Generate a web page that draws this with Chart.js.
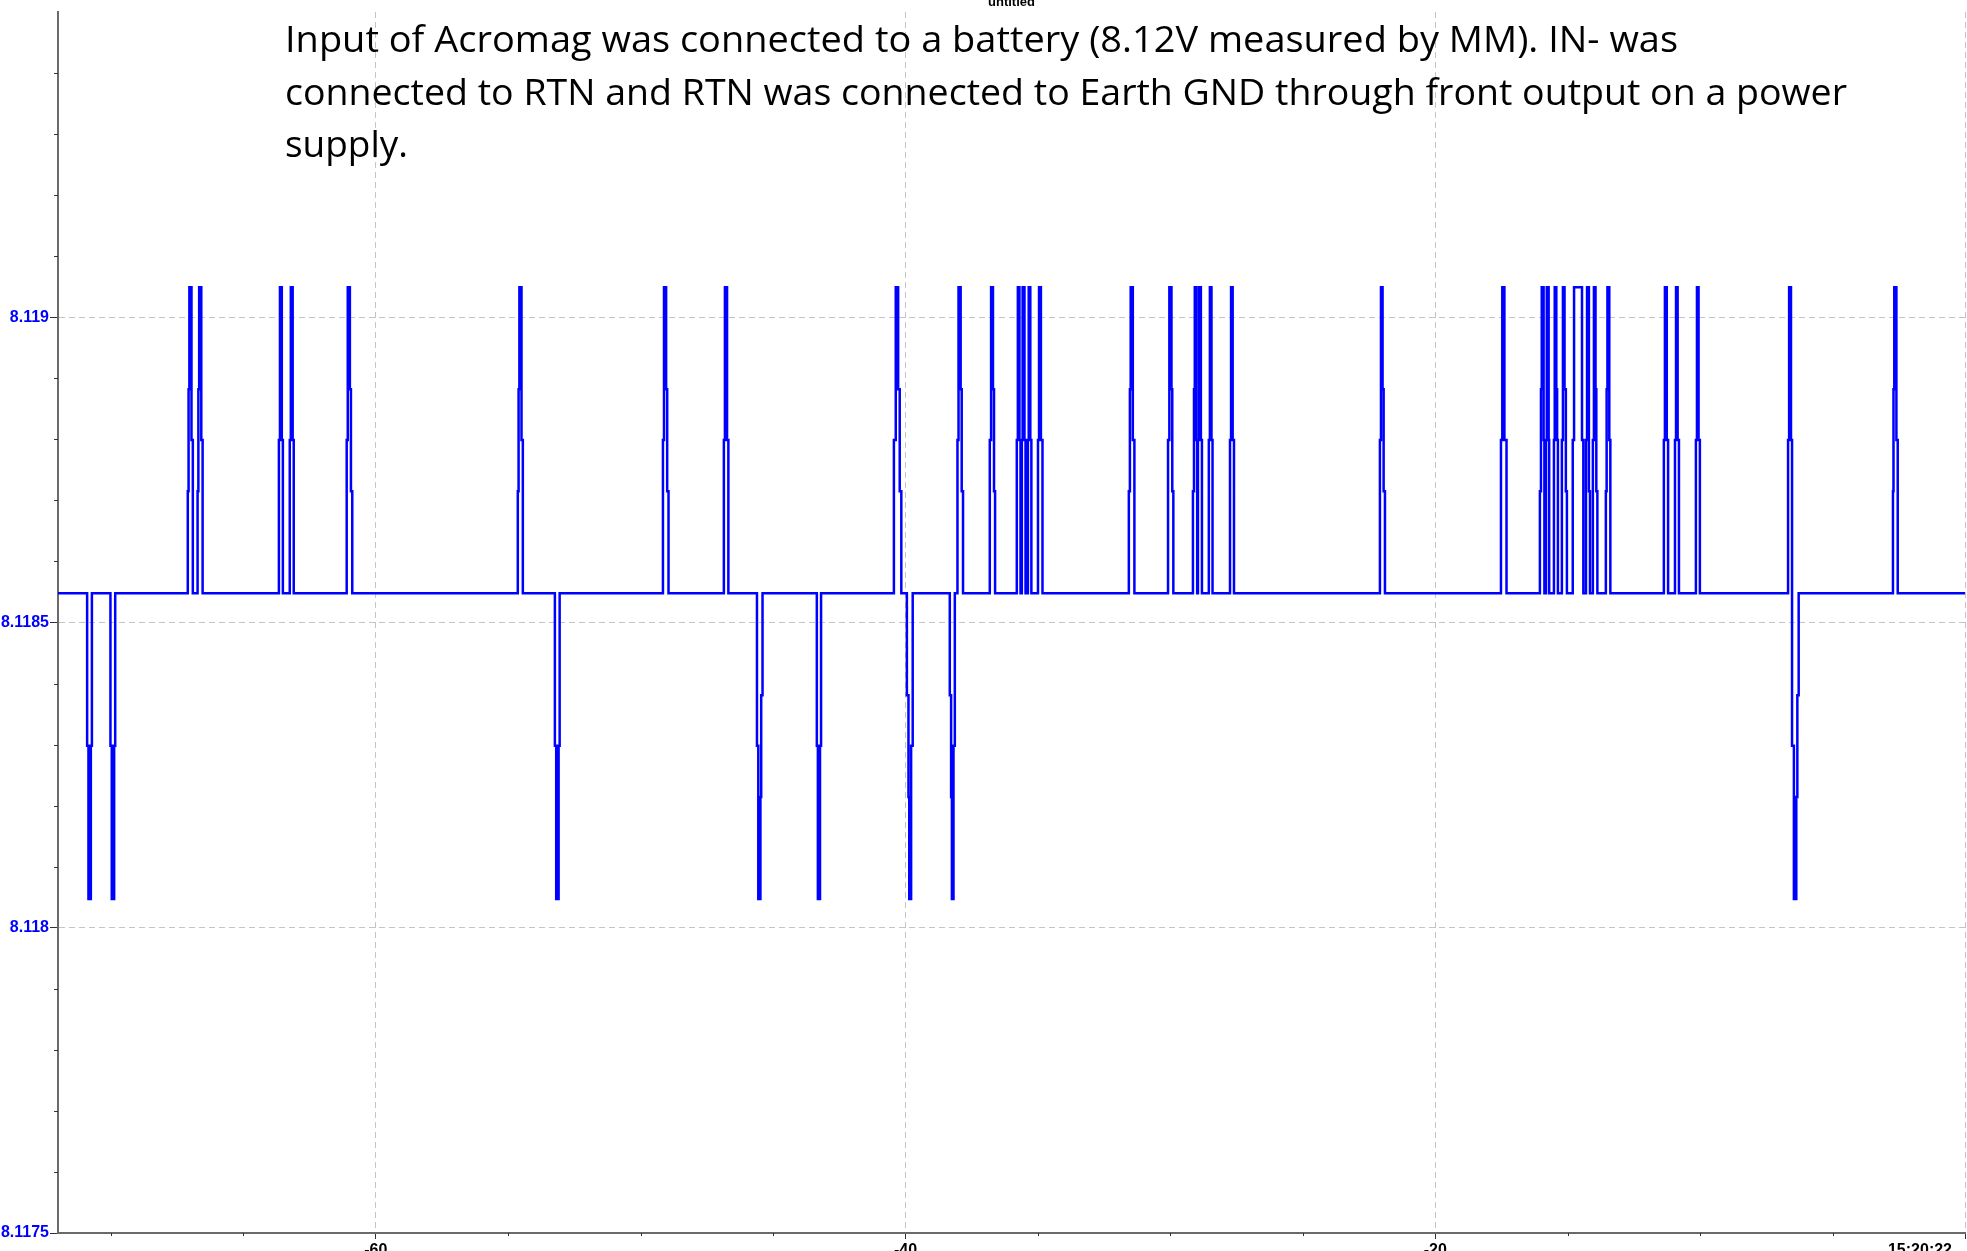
<!DOCTYPE html>
<html>
<head>
<meta charset="utf-8">
<title>untitled</title>
<script src="https://cdn.jsdelivr.net/npm/chart.js@4.4.1/dist/chart.umd.min.js"></script>
<style>
  html, body { margin: 0; padding: 0; background: #ffffff; overflow: hidden; }
  #wrap { width: 1967px; height: 1251px; }
</style>
</head>
<body>
<div id="wrap"><canvas id="plot" width="1967" height="1251"></canvas></div>
<script>
(function() {
  window.addEventListener("load", main);

  const TITLE = "untitled";
  const NOTE_LINES = [
    "Input of Acromag was connected to a battery (8.12V measured by MM). IN- was",
    "connected to RTN and RTN was connected to Earth GND through front output on a power",
    "supply."
  ];
  // width each typed line takes up in the picture
  const NOTE_WIDTHS = [1393, 1562, 123];

  // seconds before 15:20:22, one entry per sample change
  const times = [
    -72.00,
    -70.90, -70.85, -70.76, -70.72,
    -70.02, -69.97, -69.88, -69.84,
    -67.10, -67.07, -67.04, -66.96, -66.91,
    -66.73, -66.70, -66.67, -66.59, -66.54,
    -63.66, -63.62, -63.55, -63.51,
    -63.25, -63.21, -63.14, -63.10,
    -61.10, -61.06, -60.98, -60.94, -60.89,
    -54.64, -54.61, -54.58, -54.50, -54.45,
    -53.24, -53.19, -53.10, -53.06,
    -49.16, -49.12, -49.04, -49.00, -48.95,
    -46.86, -46.82, -46.74, -46.69,
    -45.61, -45.56, -45.48, -45.45, -45.40,
    -43.35, -43.31, -43.23, -43.19,
    -40.44, -40.37, -40.28, -40.22, -40.16,
    -39.95, -39.89, -39.86, -39.79, -39.73,
    -38.33, -38.28, -38.25, -38.19, -38.14,
    -38.04, -38.00, -37.92, -37.88, -37.83,
    -36.82, -36.77, -36.70, -36.66, -36.62,
    -35.80, -35.76, -35.70, -35.66,
    -35.61, -35.58, -35.51, -35.47,
    -35.38, -35.35, -35.29, -35.25,
    -35.00, -34.96, -34.89, -34.83,
    -31.57, -31.53, -31.50, -31.42, -31.36,
    -30.09, -30.04, -29.96, -29.93, -29.89,
    -29.15, -29.11, -29.08, -29.02, -28.99,
    -28.96, -28.92, -28.85, -28.81,
    -28.55, -28.51, -28.45, -28.41,
    -27.75, -27.71, -27.65, -27.60,
    -22.09, -22.05, -21.99, -21.95, -21.90,
    -17.52, -17.47, -17.39, -17.31,
    -16.05, -16.01, -15.98, -15.91, -15.88,
    -15.82, -15.79, -15.72, -15.70,
    -15.52, -15.49, -15.43, -15.40, -15.37,
    -15.22, -15.18, -15.12, -15.07, -15.03,
    -14.81, -14.76, -14.46, -14.41,
    -14.31, -14.27, -14.20, -14.16,
    -14.05, -14.01, -13.95, -13.92, -13.88,
    -13.56, -13.53, -13.50, -13.43, -13.39,
    -11.37, -11.33, -11.26, -11.21,
    -10.95, -10.91, -10.85, -10.80,
    -10.16, -10.12, -10.06, -10.01,
    -6.68, -6.64, -6.57, -6.53, -6.46, -6.37, -6.33, -6.28,
    -2.72, -2.70, -2.67, -2.59, -2.54,
    0.00
  ];

  // volts, same order as times
  const volts = [
    8.118548,
    8.118298, 8.118047, 8.118298, 8.118548,
    8.118298, 8.118047, 8.118298, 8.118548,
    8.118715, 8.118882, 8.119049, 8.118799, 8.118548,
    8.118715, 8.118882, 8.119049, 8.118799, 8.118548,
    8.118799, 8.119049, 8.118799, 8.118548,
    8.118799, 8.119049, 8.118799, 8.118548,
    8.118799, 8.119049, 8.118882, 8.118715, 8.118548,
    8.118715, 8.118882, 8.119049, 8.118799, 8.118548,
    8.118298, 8.118047, 8.118298, 8.118548,
    8.118799, 8.119049, 8.118882, 8.118715, 8.118548,
    8.118799, 8.119049, 8.118799, 8.118548,
    8.118298, 8.118047, 8.118214, 8.118381, 8.118548,
    8.118298, 8.118047, 8.118298, 8.118548,
    8.118799, 8.119049, 8.118882, 8.118715, 8.118548,
    8.118381, 8.118214, 8.118047, 8.118298, 8.118548,
    8.118381, 8.118214, 8.118047, 8.118298, 8.118548,
    8.118799, 8.119049, 8.118882, 8.118715, 8.118548,
    8.118799, 8.119049, 8.118882, 8.118715, 8.118548,
    8.118799, 8.119049, 8.118799, 8.118548,
    8.118799, 8.119049, 8.118799, 8.118548,
    8.118799, 8.119049, 8.118799, 8.118548,
    8.118799, 8.119049, 8.118799, 8.118548,
    8.118715, 8.118882, 8.119049, 8.118799, 8.118548,
    8.118799, 8.119049, 8.118882, 8.118715, 8.118548,
    8.118715, 8.118882, 8.119049, 8.118799, 8.118548,
    8.118799, 8.119049, 8.118799, 8.118548,
    8.118799, 8.119049, 8.118799, 8.118548,
    8.118799, 8.119049, 8.118799, 8.118548,
    8.118799, 8.119049, 8.118882, 8.118715, 8.118548,
    8.118799, 8.119049, 8.118799, 8.118548,
    8.118715, 8.118882, 8.119049, 8.118799, 8.118548,
    8.118799, 8.119049, 8.118799, 8.118548,
    8.118799, 8.119049, 8.118882, 8.118799, 8.118548,
    8.118799, 8.119049, 8.118882, 8.118715, 8.118548,
    8.118799, 8.119049, 8.118799, 8.118548,
    8.118799, 8.119049, 8.118715, 8.118548,
    8.118799, 8.119049, 8.118882, 8.118715, 8.118548,
    8.118715, 8.118882, 8.119049, 8.118799, 8.118548,
    8.118799, 8.119049, 8.118799, 8.118548,
    8.118799, 8.119049, 8.118799, 8.118548,
    8.118799, 8.119049, 8.118799, 8.118548,
    8.118799, 8.119049, 8.118799, 8.118298, 8.118047, 8.118214, 8.118381, 8.118548,
    8.118715, 8.118882, 8.119049, 8.118799, 8.118548,
    8.118548
  ];

  const X_MIN = -72;
  const X_MAX = 0;
  const Y_MIN = 8.1175;
  const Y_MAX = 8.1195;
  const xTickValues = [-60, -40, -20, 0];
  const xTickLabels = ["-60", "-40", "-20", "15:20:22"];
  const yTickValues = [8.1175, 8.118, 8.1185, 8.119];
  const yTickLabels = ["8.1175", "8.118", "8.1185", "8.119"];

  const GRID_COLOR = "#c4c4c4";
  const TICK_COLOR = "#303030";
  const AXIS_COLOR = "#6a6a6a";
  const NONE = "rgba(0,0,0,0)";

  function main() {
    let points = [];
    for (let i = 0; i < times.length; i++) {
      points.push({x: times[i], y: volts[i]});
    }

    let ctx = document.getElementById("plot").getContext("2d");
    let chart = new Chart(ctx, {
      type: "line",
      data: {
        datasets: [{
          label: "IN+",
          data: points,
          borderColor: "#0000ff",
          borderWidth: 2.5,
          pointRadius: 0,
          stepped: true,
          fill: false
        }]
      },
      options: {
        responsive: false,
        animation: false,
        events: [],
        layout: { padding: { top: 12, right: 2, left: 0, bottom: 0 } },
        plugins: {
          legend: { display: false },
          title: { display: false },
          tooltip: { enabled: false }
        },
        scales: {
          x: {
            type: "linear",
            min: X_MIN,
            max: X_MAX,
            afterFit: function(scale) {
              scale.height = 18;
              scale.paddingLeft = 0;
              scale.paddingRight = 0;
            },
            ticks: { display: false, stepSize: 5, includeBounds: false },
            grid: {
              color: function(c) { return c.tick && isMajorX(c.tick.value) ? GRID_COLOR : NONE; },
              tickColor: function(c) { return c.tick && isMajorX(c.tick.value) ? TICK_COLOR : NONE; },
              lineWidth: 1,
              tickLength: 6
            },
            border: { display: true, color: AXIS_COLOR, width: 2, dash: [6, 4] }
          },
          y: {
            type: "linear",
            min: Y_MIN,
            max: Y_MAX,
            afterFit: function(scale) {
              scale.width = 58;
              scale.paddingTop = 0;
              scale.paddingBottom = 0;
            },
            ticks: {
              stepSize: 0.0001,
              autoSkip: false,
              padding: 1,
              color: "#0000ff",
              font: { family: "'Liberation Sans', Arial, sans-serif", size: 16, weight: "bold" },
              callback: function(value) {
                if (!isMajorY(value)) {
                  return "";
                }
                return yTickLabels[findMajor(yTickValues, value, 1e-8)];
              }
            },
            grid: {
              color: function(c) { return c.tick && isMajorY(c.tick.value) ? GRID_COLOR : NONE; },
              tickColor: function(c) { return c.tick && isMajorY(c.tick.value) ? TICK_COLOR : NONE; },
              lineWidth: 1,
              tickLength: 8
            },
            border: { display: true, color: AXIS_COLOR, width: 2, dash: [6, 4] }
          }
        }
      },
      plugins: [axisExtras, noteText]
    });
  }

  function findMajor(list, v, eps) {
    for (let i = 0; i < list.length; i++) {
      if (Math.abs(list[i] - v) < eps) {
        return i;
      }
    }
    return -1;
  }

  function isMajorY(v) {
    return v < Y_MAX - 1e-9 && findMajor(yTickValues, v, 1e-8) >= 0;
  }

  function isMajorX(v) {
    return findMajor(xTickValues, v, 1e-6) >= 0;
  }

  // short minor tick marks and the time labels under the x axis
  const axisExtras = {
    id: "axisExtras",
    afterDraw: function(chart) {
      let c = chart.ctx;
      let xs = chart.scales.x;
      let ys = chart.scales.y;
      c.save();
      c.strokeStyle = TICK_COLOR;
      c.lineWidth = 1;
      c.beginPath();
      ys.ticks.forEach(function(t) {
        if (isMajorY(t.value) || t.value > Y_MAX - 1e-9) {
          return;
        }
        let y = Math.round(ys.getPixelForValue(t.value)) + 0.5;
        c.moveTo(ys.right - 4, y);
        c.lineTo(ys.right, y);
      });
      xs.ticks.forEach(function(t) {
        if (isMajorX(t.value)) {
          return;
        }
        let x = Math.round(xs.getPixelForValue(t.value)) + 0.5;
        c.moveTo(x, xs.top);
        c.lineTo(x, xs.top + 3);
      });
      c.stroke();

      c.fillStyle = "#000000";
      c.font = "bold 16px 'Liberation Sans Narrow', 'Liberation Sans', Arial, sans-serif";
      c.textBaseline = "alphabetic";
      for (let i = 0; i < xTickValues.length; i++) {
        let x = xs.getPixelForValue(xTickValues[i]);
        if (i === xTickValues.length - 1) {
          c.textAlign = "right";
          x = chart.width - 15;
        } else {
          c.textAlign = "center";
        }
        c.fillText(xTickLabels[i], x, xs.top + 22);
      }
      c.restore();
    }
  };

  // chart title and the typed note across the top
  const noteText = {
    id: "noteText",
    afterDraw: function(chart) {
      let c = chart.ctx;
      let area = chart.chartArea;
      c.save();
      c.fillStyle = "#000000";
      c.font = "bold 13px 'Liberation Sans', Arial, sans-serif";
      c.textAlign = "center";
      c.textBaseline = "alphabetic";
      c.fillText(TITLE, (area.left + area.right) / 2, 6);

      c.font = "37px 'Open Sans', 'Noto Sans', sans-serif";
      c.textAlign = "left";
      for (let i = 0; i < NOTE_LINES.length; i++) {
        let sx = NOTE_WIDTHS[i] / c.measureText(NOTE_LINES[i]).width;
        c.save();
        c.translate(285, 52 + i * 52.5);
        c.scale(sx, 1);
        c.fillText(NOTE_LINES[i], 0, 0);
        c.restore();
      }
      c.restore();
    }
  };
})();
</script>
</body>
</html>
